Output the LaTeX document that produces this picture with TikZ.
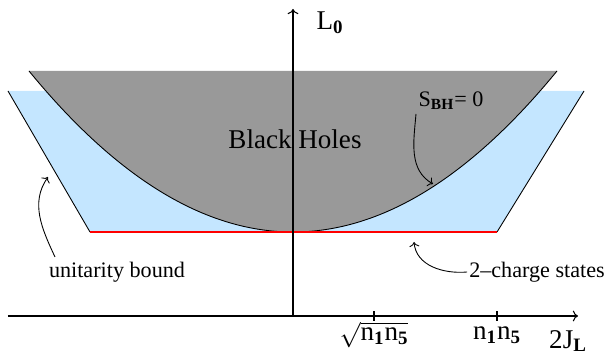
\documentclass[tikz,border=0pt]{standalone}
\usepackage{fontspec}
\setmainfont{Liberation Serif}
\usetikzlibrary{arrows.meta, positioning, calc}
\definecolor{bhgray}{RGB}{153,153,153}
\definecolor{chargeblue}{RGB}{196,230,255}
\newcommand{\bsub}[1]{\textsubscript{\textbf{#1}}}
\begin{document}
\begin{tikzpicture}[axis/.style={line width=0.6pt},
  edge/.style={line width=0.5pt},
  callout/.style={->, line width=0.5pt},
  lbl/.style={font=\fontsize{15.4}{18}\selectfont, inner sep=1pt},
  note/.style={font=\fontsize{12.6}{15}\selectfont, inner sep=1pt}]
  \useasboundingbox (-5.86,-0.76) rectangle (6.36,6.32);

  % regions
  \fill[chargeblue] (-5.7,4.5) -- (5.82,4.5) -- (4.08,1.68) -- (-4.06,1.68) -- cycle;
  \fill[bhgray] (-5.28,4.9) .. controls (-1.76,0.606) and (1.76,0.606) .. (5.28,4.9) -- cycle;
  \draw[edge] (-5.28,4.9) .. controls (-1.76,0.606) and (1.76,0.606) .. (5.28,4.9);
  \draw[edge] (-5.7,4.5) -- (-4.06,1.68);
  \draw[edge] (5.82,4.5) -- (4.08,1.68);
  \draw[red, line width=1.2pt] (-4.06,1.68) -- (4.08,1.68);

  % axes
  \coordinate (o) at (0,0);
  \coordinate (xend) at (5.7,0);
  \coordinate (yend) at (0,6.14);
  \draw[axis, ->] (-5.7,0) -- (xend);
  \draw[axis, ->] (o) -- (yend);
  \draw[axis] (1.62,-0.1) -- (1.62,0.1);
  \draw[axis] (4.08,-0.1) -- (4.08,0.1);

  \node[lbl] (l0) at (0.74,5.86) {L\bsub{0}};
  \node[lbl] (jl) at (5.5,-0.5) {2J\bsub{L}};
  \node[lbl] (sq) at (1.62,-0.38) {$\sqrt{\mbox{n\bsub{1}n\bsub{5}}}$};
  \node[lbl] (nn) at (4.08,-0.38) {n\bsub{1}n\bsub{5}};

  \node[lbl] (bh) at (0.04,3.54) {Black Holes};
  \node[note] (sbh) at (3.16,4.3) {S\bsub{BH}= 0};
  \node[note] (ub) at (-3.52,0.88) {unitarity bound};
  \node[note] (cs) at (4.88,0.88) {2\textendash charge states};

  \coordinate (sbhtip) at (2.8,2.64);
  \coordinate (ubtip) at (-4.9,2.78);
  \coordinate (cstip) at (2.42,1.48);
  \draw[callout] (2.46,4.04) to[out=-95,in=150] (sbhtip);
  \draw[callout] (-4.76,1.18) to[out=115,in=-125] (ubtip);
  \draw[callout] (cs.west) to[out=185,in=-85] (cstip);
\end{tikzpicture}
\end{document}
